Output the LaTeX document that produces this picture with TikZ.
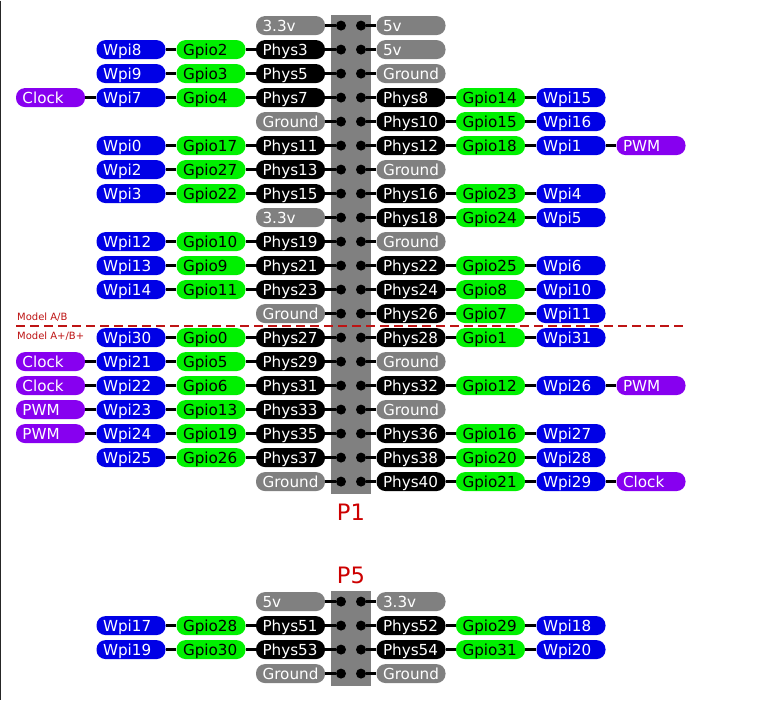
\documentclass[tikz,border=0pt]{standalone}
\usepackage{fontspec}
\setmainfont{DejaVu Sans}
\usepackage{xcolor}

\definecolor{pingray}{RGB}{128,128,128}
\definecolor{gpiogrn}{RGB}{0,240,0}
\definecolor{wpiblue}{RGB}{0,0,230}
\definecolor{funcvio}{RGB}{135,0,240}
\definecolor{hdrred}{RGB}{205,0,0}
\definecolor{cutred}{RGB}{190,20,20}

\begin{document}
\begin{tikzpicture}[
  x=1pt, y=-1pt,
  pill/.style={rectangle, rounded corners=9pt, minimum height=19pt, text width=56pt,
               inner xsep=6.5pt, inner ysep=0pt, text height=11pt, text depth=0pt,
               align=left, font=\fontsize{15.2}{18}\selectfont},
  phys/.style={pill, fill=black, text=white},
  pwr/.style={pill, fill=pingray, text=white},
  gpio/.style={pill, fill=gpiogrn, text=black},
  wpi/.style={pill, fill=wpiblue, text=white},
  func/.style={pill, fill=funcvio, text=white},
  hole/.style={circle, fill=black, minimum size=10pt, inner sep=0pt},
  wire/.style={draw=black, line width=2.6pt},
  cut/.style={draw=cutred, line width=2pt, dash pattern=on 9pt off 5pt},
  hdr/.style={font=\fontsize{22.6}{26}\selectfont, text=hdrred},
  mdl/.style={font=\fontsize{10}{12}\selectfont, text=cutred, anchor=base west, inner sep=0pt}
]
\path[fill=white] (0,0) rectangle (764,699);
\draw[line width=1.2pt, black!85] (0.6,0) -- (0.6,699);

% ---------------------------------------------- headers
\fill[pingray] (331,14) rectangle (371,493);
\fill[pingray] (331,590) rectangle (371,685);
\foreach \r in {1,...,20}
  \node[hole] (a\r) at (341,{1+24*\r}) {} node[hole] (b\r) at (361,{1+24*\r}) {};
\foreach \r/\y in {21/601, 22/625, 23/649, 24/673}
  \node[hole] (a\r) at (341,\y) {} node[hole] (b\r) at (361,\y) {};

\node[hdr] (p1) at (351,511.5) {P1};
\node[hdr] (p5) at (351,574.5) {P5};

% ---------------------------------------------- model cut
\coordinate (cutl) at (16,325);
\coordinate (cutr) at (686,325);
\draw[cut] (cutl) -- (cutr);
\node[mdl] (ab)  at (17,320) {Model A/B};
\node[mdl] (abp) at (17,338.5) {Model A+/B+};

% ---------------------------------------------- P1, left and right
\node[pwr]  (lp1) at (290.5,25) {3.3v};
\node[pwr]  (rp1) at (411,25) {5v};
\draw[wire] (lp1) -- (a1) (b1) -- (rp1);

\node[wpi]  (lw2) at (131,49) {Wpi8};
\node[gpio] (lg2) at (211,49) {Gpio2};
\node[phys] (lp2) at (290.5,49) {Phys3};
\node[pwr]  (rp2) at (411,49) {5v};
\draw[wire] (lw2) -- (lg2) -- (lp2) -- (a2) (b2) -- (rp2);

\node[wpi]  (lw3) at (131,73) {Wpi9};
\node[gpio] (lg3) at (211,73) {Gpio3};
\node[phys] (lp3) at (290.5,73) {Phys5};
\node[pwr]  (rp3) at (411,73) {Ground};
\draw[wire] (lw3) -- (lg3) -- (lp3) -- (a3) (b3) -- (rp3);

\node[func] (lf4) at (50.5,97) {Clock};
\node[wpi]  (lw4) at (131,97) {Wpi7};
\node[gpio] (lg4) at (211,97) {Gpio4};
\node[phys] (lp4) at (290.5,97) {Phys7};
\node[phys] (rp4) at (411,97) {Phys8};
\node[gpio] (rg4) at (490.5,97) {Gpio14};
\node[wpi]  (rw4) at (571,97) {Wpi15};
\draw[wire] (lf4) -- (lw4) -- (lg4) -- (lp4) -- (a4) (b4) -- (rp4) -- (rg4) -- (rw4);

\node[pwr]  (lp5) at (290.5,121) {Ground};
\node[phys] (rp5) at (411,121) {Phys10};
\node[gpio] (rg5) at (490.5,121) {Gpio15};
\node[wpi]  (rw5) at (571,121) {Wpi16};
\draw[wire] (lp5) -- (a5) (b5) -- (rp5) -- (rg5) -- (rw5);

\node[wpi]  (lw6) at (131,145) {Wpi0};
\node[gpio] (lg6) at (211,145) {Gpio17};
\node[phys] (lp6) at (290.5,145) {Phys11};
\node[phys] (rp6) at (411,145) {Phys12};
\node[gpio] (rg6) at (490.5,145) {Gpio18};
\node[wpi]  (rw6) at (571,145) {Wpi1};
\node[func] (rf6) at (651,145) {PWM};
\draw[wire] (lw6) -- (lg6) -- (lp6) -- (a6) (b6) -- (rp6) -- (rg6) -- (rw6) -- (rf6);

\node[wpi]  (lw7) at (131,169) {Wpi2};
\node[gpio] (lg7) at (211,169) {Gpio27};
\node[phys] (lp7) at (290.5,169) {Phys13};
\node[pwr]  (rp7) at (411,169) {Ground};
\draw[wire] (lw7) -- (lg7) -- (lp7) -- (a7) (b7) -- (rp7);

\node[wpi]  (lw8) at (131,193) {Wpi3};
\node[gpio] (lg8) at (211,193) {Gpio22};
\node[phys] (lp8) at (290.5,193) {Phys15};
\node[phys] (rp8) at (411,193) {Phys16};
\node[gpio] (rg8) at (490.5,193) {Gpio23};
\node[wpi]  (rw8) at (571,193) {Wpi4};
\draw[wire] (lw8) -- (lg8) -- (lp8) -- (a8) (b8) -- (rp8) -- (rg8) -- (rw8);

\node[pwr]  (lp9) at (290.5,217) {3.3v};
\node[phys] (rp9) at (411,217) {Phys18};
\node[gpio] (rg9) at (490.5,217) {Gpio24};
\node[wpi]  (rw9) at (571,217) {Wpi5};
\draw[wire] (lp9) -- (a9) (b9) -- (rp9) -- (rg9) -- (rw9);

\node[wpi]  (lw10) at (131,241) {Wpi12};
\node[gpio] (lg10) at (211,241) {Gpio10};
\node[phys] (lp10) at (290.5,241) {Phys19};
\node[pwr]  (rp10) at (411,241) {Ground};
\draw[wire] (lw10) -- (lg10) -- (lp10) -- (a10) (b10) -- (rp10);

\node[wpi]  (lw11) at (131,265) {Wpi13};
\node[gpio] (lg11) at (211,265) {Gpio9};
\node[phys] (lp11) at (290.5,265) {Phys21};
\node[phys] (rp11) at (411,265) {Phys22};
\node[gpio] (rg11) at (490.5,265) {Gpio25};
\node[wpi]  (rw11) at (571,265) {Wpi6};
\draw[wire] (lw11) -- (lg11) -- (lp11) -- (a11) (b11) -- (rp11) -- (rg11) -- (rw11);

\node[wpi]  (lw12) at (131,289) {Wpi14};
\node[gpio] (lg12) at (211,289) {Gpio11};
\node[phys] (lp12) at (290.5,289) {Phys23};
\node[phys] (rp12) at (411,289) {Phys24};
\node[gpio] (rg12) at (490.5,289) {Gpio8};
\node[wpi]  (rw12) at (571,289) {Wpi10};
\draw[wire] (lw12) -- (lg12) -- (lp12) -- (a12) (b12) -- (rp12) -- (rg12) -- (rw12);

\node[pwr]  (lp13) at (290.5,313) {Ground};
\node[phys] (rp13) at (411,313) {Phys26};
\node[gpio] (rg13) at (490.5,313) {Gpio7};
\node[wpi]  (rw13) at (571,313) {Wpi11};
\draw[wire] (lp13) -- (a13) (b13) -- (rp13) -- (rg13) -- (rw13);

\node[wpi]  (lw14) at (131,337) {Wpi30};
\node[gpio] (lg14) at (211,337) {Gpio0};
\node[phys] (lp14) at (290.5,337) {Phys27};
\node[phys] (rp14) at (411,337) {Phys28};
\node[gpio] (rg14) at (490.5,337) {Gpio1};
\node[wpi]  (rw14) at (571,337) {Wpi31};
\draw[wire] (lw14) -- (lg14) -- (lp14) -- (a14) (b14) -- (rp14) -- (rg14) -- (rw14);

\node[func] (lf15) at (50.5,361) {Clock};
\node[wpi]  (lw15) at (131,361) {Wpi21};
\node[gpio] (lg15) at (211,361) {Gpio5};
\node[phys] (lp15) at (290.5,361) {Phys29};
\node[pwr]  (rp15) at (411,361) {Ground};
\draw[wire] (lf15) -- (lw15) -- (lg15) -- (lp15) -- (a15) (b15) -- (rp15);

\node[func] (lf16) at (50.5,385) {Clock};
\node[wpi]  (lw16) at (131,385) {Wpi22};
\node[gpio] (lg16) at (211,385) {Gpio6};
\node[phys] (lp16) at (290.5,385) {Phys31};
\node[phys] (rp16) at (411,385) {Phys32};
\node[gpio] (rg16) at (490.5,385) {Gpio12};
\node[wpi]  (rw16) at (571,385) {Wpi26};
\node[func] (rf16) at (651,385) {PWM};
\draw[wire] (lf16) -- (lw16) -- (lg16) -- (lp16) -- (a16) (b16) -- (rp16) -- (rg16) -- (rw16) -- (rf16);

\node[func] (lf17) at (50.5,409) {PWM};
\node[wpi]  (lw17) at (131,409) {Wpi23};
\node[gpio] (lg17) at (211,409) {Gpio13};
\node[phys] (lp17) at (290.5,409) {Phys33};
\node[pwr]  (rp17) at (411,409) {Ground};
\draw[wire] (lf17) -- (lw17) -- (lg17) -- (lp17) -- (a17) (b17) -- (rp17);

\node[func] (lf18) at (50.5,433) {PWM};
\node[wpi]  (lw18) at (131,433) {Wpi24};
\node[gpio] (lg18) at (211,433) {Gpio19};
\node[phys] (lp18) at (290.5,433) {Phys35};
\node[phys] (rp18) at (411,433) {Phys36};
\node[gpio] (rg18) at (490.5,433) {Gpio16};
\node[wpi]  (rw18) at (571,433) {Wpi27};
\draw[wire] (lf18) -- (lw18) -- (lg18) -- (lp18) -- (a18) (b18) -- (rp18) -- (rg18) -- (rw18);

\node[wpi]  (lw19) at (131,457) {Wpi25};
\node[gpio] (lg19) at (211,457) {Gpio26};
\node[phys] (lp19) at (290.5,457) {Phys37};
\node[phys] (rp19) at (411,457) {Phys38};
\node[gpio] (rg19) at (490.5,457) {Gpio20};
\node[wpi]  (rw19) at (571,457) {Wpi28};
\draw[wire] (lw19) -- (lg19) -- (lp19) -- (a19) (b19) -- (rp19) -- (rg19) -- (rw19);

\node[pwr]  (lp20) at (290.5,481) {Ground};
\node[phys] (rp20) at (411,481) {Phys40};
\node[gpio] (rg20) at (490.5,481) {Gpio21};
\node[wpi]  (rw20) at (571,481) {Wpi29};
\node[func] (rf20) at (651,481) {Clock};
\draw[wire] (lp20) -- (a20) (b20) -- (rp20) -- (rg20) -- (rw20) -- (rf20);

% ---------------------------------------------- P5
\node[pwr]  (lp21) at (290.5,601) {5v};
\node[pwr]  (rp21) at (411,601) {3.3v};
\draw[wire] (lp21) -- (a21) (b21) -- (rp21);

\node[wpi]  (lw22) at (131,625) {Wpi17};
\node[gpio] (lg22) at (211,625) {Gpio28};
\node[phys] (lp22) at (290.5,625) {Phys51};
\node[phys] (rp22) at (411,625) {Phys52};
\node[gpio] (rg22) at (490.5,625) {Gpio29};
\node[wpi]  (rw22) at (571,625) {Wpi18};
\draw[wire] (lw22) -- (lg22) -- (lp22) -- (a22) (b22) -- (rp22) -- (rg22) -- (rw22);

\node[wpi]  (lw23) at (131,649) {Wpi19};
\node[gpio] (lg23) at (211,649) {Gpio30};
\node[phys] (lp23) at (290.5,649) {Phys53};
\node[phys] (rp23) at (411,649) {Phys54};
\node[gpio] (rg23) at (490.5,649) {Gpio31};
\node[wpi]  (rw23) at (571,649) {Wpi20};
\draw[wire] (lw23) -- (lg23) -- (lp23) -- (a23) (b23) -- (rp23) -- (rg23) -- (rw23);

\node[pwr]  (lp24) at (290.5,673) {Ground};
\node[pwr]  (rp24) at (411,673) {Ground};
\draw[wire] (lp24) -- (a24) (b24) -- (rp24);

\end{tikzpicture}
\end{document}
